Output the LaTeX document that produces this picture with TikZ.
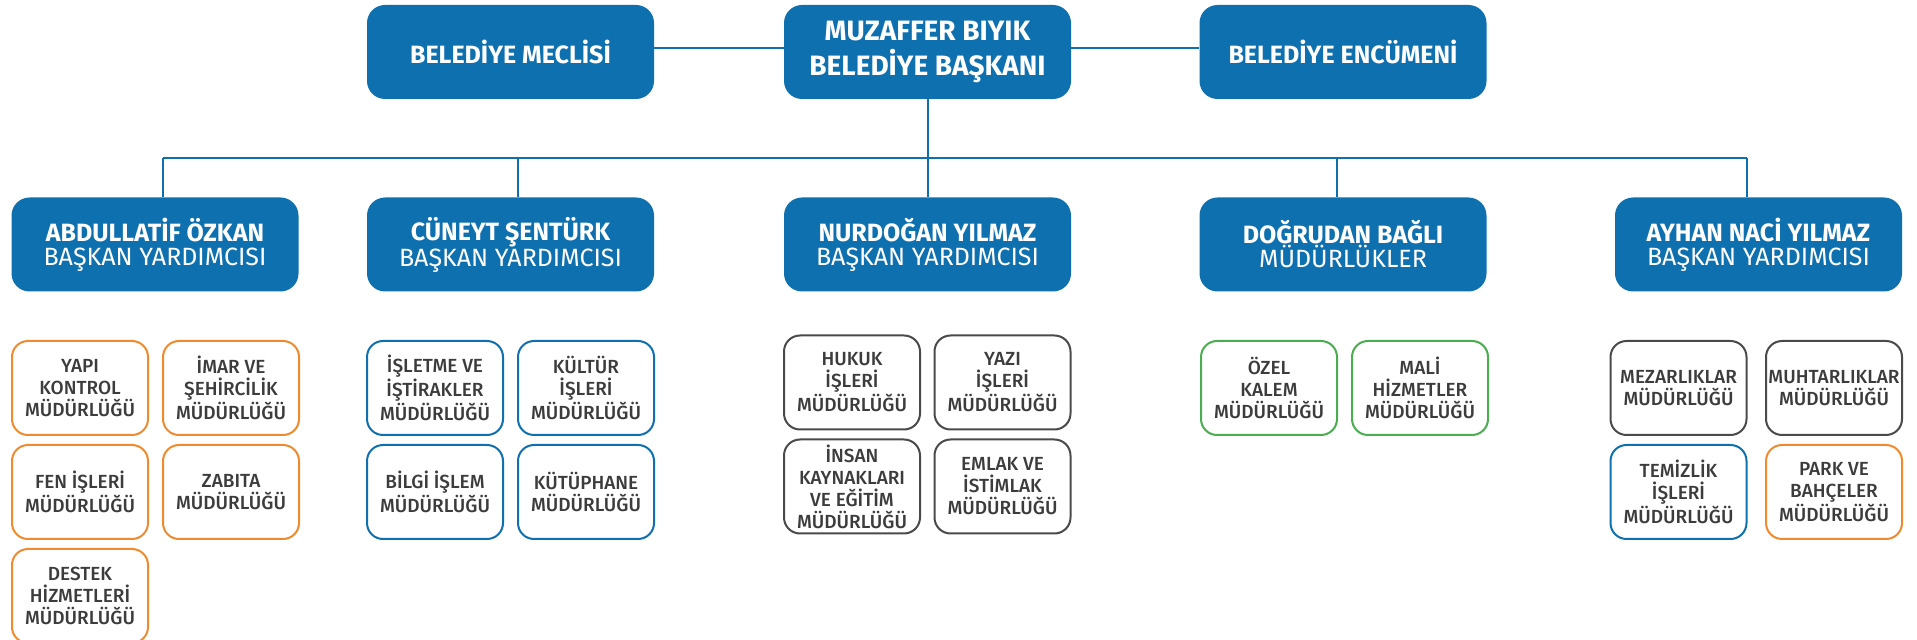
\documentclass[tikz,border=0pt]{standalone}
\usepackage{fontspec}
\setmainfont{Fira Sans}
\newfontfamily\unitfont{Fira Sans Medium}
\usetikzlibrary{positioning}

\definecolor{orgblue}{HTML}{0F70B0}
\definecolor{orgorange}{HTML}{F08A2E}
\definecolor{orggreen}{HTML}{4CAD50}
\definecolor{orggray}{HTML}{4A4A4A}
\definecolor{orgtext}{HTML}{3C3C3C}

\begin{document}
\begin{tikzpicture}[x=0.5pt,y=-0.5pt]
\tikzstyle{headbox}=[fill=orgblue,rounded corners=9pt,minimum width=143.5pt,minimum height=47pt,inner sep=0pt,align=center,text=white,font=\fontsize{12.5}{12}\selectfont]
\tikzstyle{unit}=[draw,line width=1pt,fill=white,rounded corners=8pt,minimum width=68pt,minimum height=47pt,inner sep=0pt,align=center,text=orgtext,font=\unitfont\fontsize{9.5}{11}\selectfont]
\tikzstyle{connection}=[draw=orgblue,line width=1pt]
\useasboundingbox (0,0) rectangle (1917,640);
%%%%%%%%%%%%%%%%%%%%%%%%%%%%%%%%%%%%%%%%%%%%%%%%%%%%%%%%%%%%%%%%%%%%%%%%%%%%%%%%%%%%%%%%
%% Draw head boxes
%%%%%%%%%%%%%%%%%%%%%%%%%%%%%%%%%%%%%%%%%%%%%%%%%%%%%%%%%%%%%%%%%%%%%%%%%%%%%%%%%%%%%%%%
% top row
\node[headbox] (meclis) at (510.5,52) {\bfseries BELEDİYE MECLİSİ};
\node[headbox,font=\fontsize{14}{17.5}\selectfont] (mayor) at (927.5,52) {\bfseries MUZAFFER BIYIK\\\bfseries BELEDİYE BAŞKANI};
\node[headbox] (encumen) at (1343,52) {\bfseries BELEDİYE ENCÜMENİ};

% deputies
\node[headbox] (abd) at (155,244.5) {\bfseries ABDULLATİF ÖZKAN\\BAŞKAN YARDIMCISI};
\node[headbox] (cun) at (510.5,244.5) {\bfseries CÜNEYT ŞENTÜRK\\BAŞKAN YARDIMCISI};
\node[headbox] (nur) at (927.5,244.5) {\bfseries NURDOĞAN YILMAZ\\BAŞKAN YARDIMCISI};
\node[headbox] (dog) at (1343,244.5) {\bfseries DOĞRUDAN BAĞLI\\MÜDÜRLÜKLER};
\node[headbox] (ayh) at (1758.5,244.5) {\bfseries AYHAN NACİ YILMAZ\\BAŞKAN YARDIMCISI};
%%%%%%%%%%%%%%%%%%%%%%%%%%%%%%%%%%%%%%%%%%%%%%%%%%%%%%%%%%%%%%%%%%%%%%%%%%%%%%%%%%%%%%%%

%%%%%%%%%%%%%%%%%%%%%%%%%%%%%%%%%%%%%%%%%%%%%%%%%%%%%%%%%%%%%%%%%%%%%%%%%%%%%%%%%%%%%%%%
%% Draw directorates
%%%%%%%%%%%%%%%%%%%%%%%%%%%%%%%%%%%%%%%%%%%%%%%%%%%%%%%%%%%%%%%%%%%%%%%%%%%%%%%%%%%%%%%%
% abdullatif ozkan
\node[unit,draw=orgorange] (yapi) at (80,388) {YAPI\\KONTROL\\MÜDÜRLÜĞÜ};
\node[unit,draw=orgorange] (imar) at (231,388) {İMAR VE\\ŞEHİRCİLİK\\MÜDÜRLÜĞÜ};
\node[unit,draw=orgorange] (fen) at (80,492) {FEN İŞLERİ\\MÜDÜRLÜĞÜ};
\node[unit,draw=orgorange] (zabita) at (231,492) {ZABITA\\MÜDÜRLÜĞÜ};
\node[unit,draw=orgorange] (destek) at (80,596) {DESTEK\\HİZMETLERİ\\MÜDÜRLÜĞÜ};

% cuneyt sentürk
\node[unit,draw=orgblue] (isletme) at (435,388) {İŞLETME VE\\İŞTİRAKLER\\MÜDÜRLÜĞÜ};
\node[unit,draw=orgblue] (kultur) at (586,388) {KÜLTÜR\\İŞLERİ\\MÜDÜRLÜĞÜ};
\node[unit,draw=orgblue] (bilgi) at (435,492) {BİLGİ İŞLEM\\MÜDÜRLÜĞÜ};
\node[unit,draw=orgblue] (kutup) at (586,492) {KÜTÜPHANE\\MÜDÜRLÜĞÜ};

% nurdogan yilmaz
\node[unit,draw=orggray] (hukuk) at (852,382.5) {HUKUK\\İŞLERİ\\MÜDÜRLÜĞÜ};
\node[unit,draw=orggray] (yazi) at (1002.5,382.5) {YAZI\\İŞLERİ\\MÜDÜRLÜĞÜ};
\node[unit,draw=orggray] (insan) at (852,486.5) {İNSAN\\KAYNAKLARI\\VE EĞİTİM\\MÜDÜRLÜĞÜ};
\node[unit,draw=orggray] (emlak) at (1002.5,486.5) {EMLAK VE\\İSTİMLAK\\MÜDÜRLÜĞÜ};

% dogrudan bagli
\node[unit,draw=orggreen] (ozel) at (1269,388) {ÖZEL\\KALEM\\MÜDÜRLÜĞÜ};
\node[unit,draw=orggreen] (mali) at (1420,388) {MALİ\\HİZMETLER\\MÜDÜRLÜĞÜ};

% ayhan naci yilmaz
\node[unit,draw=orggray] (mezar) at (1678.5,388) {MEZARLIKLAR\\MÜDÜRLÜĞÜ};
\node[unit,draw=orggray] (muhtar) at (1834,388) {MUHTARLIKLAR\\MÜDÜRLÜĞÜ};
\node[unit,draw=orgblue] (temiz) at (1678.5,492) {TEMİZLİK\\İŞLERİ\\MÜDÜRLÜĞÜ};
\node[unit,draw=orgorange] (park) at (1834,492) {PARK VE\\BAHÇELER\\MÜDÜRLÜĞÜ};
%%%%%%%%%%%%%%%%%%%%%%%%%%%%%%%%%%%%%%%%%%%%%%%%%%%%%%%%%%%%%%%%%%%%%%%%%%%%%%%%%%%%%%%%

%%%%%%%%%%%%%%%%%%%%%%%%%%%%%%%%%%%%%%%%%%%%%%%%%%%%%%%%%%%%%%%%%%%%%%%%%%%%%%%%%%%%%%%%
%%% Draw connections
%%%%%%%%%%%%%%%%%%%%%%%%%%%%%%%%%%%%%%%%%%%%%%%%%%%%%%%%%%%%%%%%%%%%%%%%%%%%%%%%%%%%%%%%
\coordinate (busA) at (163,158);
\coordinate (busB) at (518,158);
\coordinate (busD) at (1337,158);
\coordinate (busE) at (1747,158);
\draw[connection] ([yshift=2pt]meclis.east) -- ([yshift=2pt]mayor.west);
\draw[connection] ([yshift=2pt]mayor.east) -- ([yshift=2pt]encumen.west);
\draw[connection] (mayor.south) -- (nur.north);
\draw[connection] (busA) -- (busE);
\draw[connection] (busA) -- (busA |- abd.north);
\draw[connection] (busB) -- (busB |- cun.north);
\draw[connection] (busD) -- (busD |- dog.north);
\draw[connection] (busE) -- (busE |- ayh.north);
%%%%%%%%%%%%%%%%%%%%%%%%%%%%%%%%%%%%%%%%%%%%%%%%%%%%%%%%%%%%%%%%%%%%%%%%%%%%%%%%%%%%%%%%

\end{tikzpicture}
\end{document}
